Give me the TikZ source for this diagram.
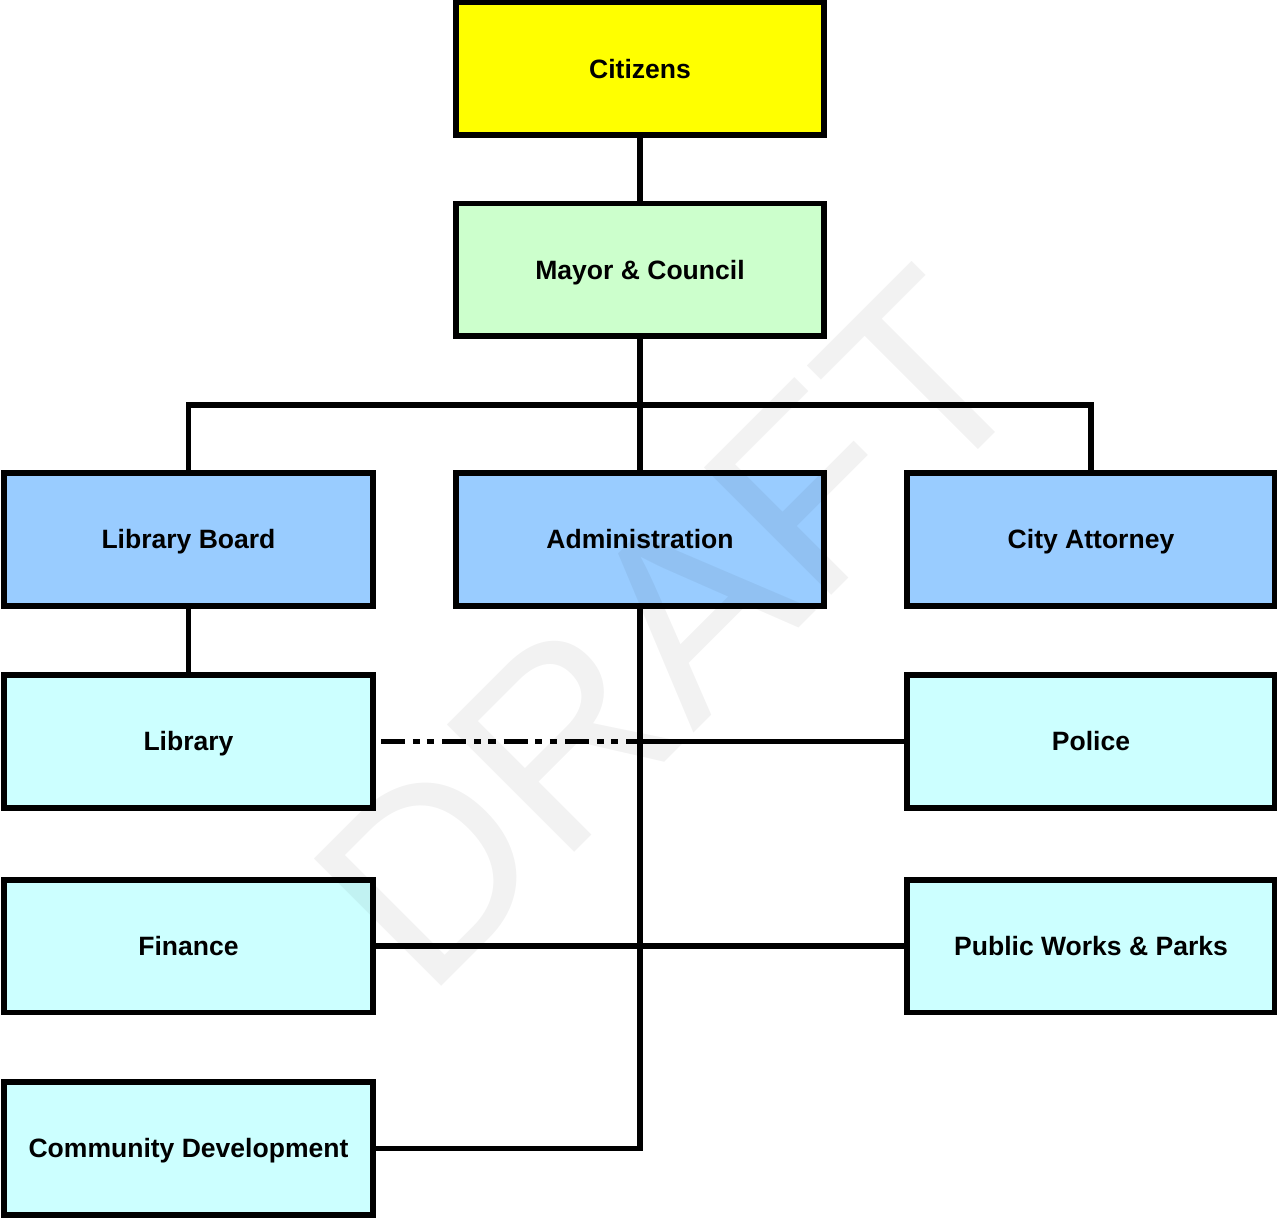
\documentclass[tikz,border=0pt]{standalone}
\usepackage{fontspec}
\setmainfont{Liberation Sans}
\usetikzlibrary{positioning}

\tikzset{
  unit/.style={draw, line width=3.4pt, minimum width=7.38cm, minimum height=2.66cm,
    font=\fontsize{15.1}{17}\selectfont\bfseries, inner sep=0pt,
    text height=10.8pt, text depth=0pt},
  link/.style={line width=3.4pt},
  dotlink/.style={line width=3.4pt, dash pattern=on 13.6pt off 4.5pt on 4pt off 4pt on 4.3pt off 4.5pt}
}
\definecolor{citfill}{HTML}{FFFF00}
\definecolor{mayfill}{HTML}{CCFFCC}
\definecolor{deptfill}{HTML}{99CCFF}
\definecolor{divfill}{HTML}{CCFFFF}

\begin{document}
\begin{tikzpicture}[x=0.02cm, y=-0.02cm]
\useasboundingbox (0,0) rectangle (1277,1219);
\node[unit, fill=citfill] (cit) at (640,69) {Citizens};
\node[unit, fill=mayfill] (may) at (640,270) {Mayor \& Council};
\node[unit, fill=deptfill] (lbd) at (188.5,539.5) {Library Board};
\node[unit, fill=deptfill] (adm) at (640,539.5) {Administration};
\node[unit, fill=deptfill] (att) at (1091,539.5) {City Attorney};
\node[unit, fill=divfill] (lib) at (188.5,741.5) {Library};
\node[unit, fill=divfill] (pol) at (1091,741.5) {Police};
\node[unit, fill=divfill] (fin) at (188.5,946) {Finance};
\node[unit, fill=divfill] (pwp) at (1091,946) {Public Works \& Parks};
\node[unit, fill=divfill] (cdv) at (188.5,1148.5) {Community Development};
\coordinate (busL) at (188.5,405);
\coordinate (busR) at (1091,405);
\coordinate (jn) at (640,741.5);
\coordinate (dstart) at (381,741.5);
\draw[link] (cit) -- (may);
\draw[link] (may) -- (adm);
\draw[link] (lbd.north) -- (busL) -- (busR) -- (att.north);
\draw[link] (lbd) -- (lib);
\draw[link] (adm.south) |- (cdv.east);
\draw[link] (fin) -- (pwp);
\draw[link] (pol.west) -- (jn);
\draw[dotlink] (dstart) -- (jn);
\node[rotate=45, text=black, text opacity=0.05, font=\fontsize{149}{149}\selectfont] (draft) at (671,629) {DRAFT};
\end{tikzpicture}
\end{document}
